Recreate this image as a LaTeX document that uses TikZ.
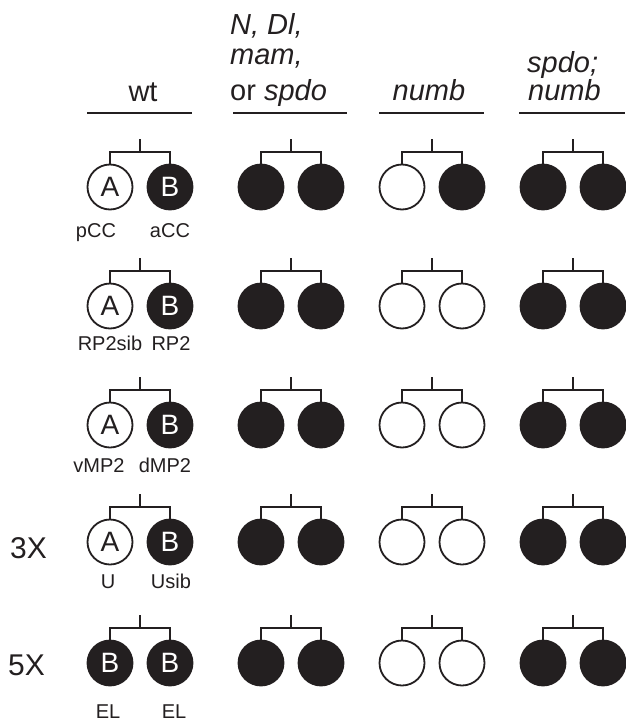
\documentclass[tikz,border=0pt]{standalone}
\usepackage{fontspec}
\setmainfont{Liberation Sans}
\definecolor{ink}{HTML}{231F20}
\newcommand\sibpair[7]{%
  \node[#4] (#1a) at (#2-30,#3) {#6};
  \node[#5] (#1b) at (#2+30,#3) {#7};
  \coordinate (#1j) at (#2,#3-35);
  \coordinate (#1t) at (#2,#3-48);
  \draw[br] (#1a.north) |- (#1j) -| (#1b.north);
  \draw[br] (#1j) -- (#1t);
}
\begin{document}
\begin{tikzpicture}[x=1pt,y=-1pt,
  cell/.style={circle, minimum size=45pt, inner sep=0pt, line width=1.8pt, draw=ink,
    font=\fontsize{28}{28}\selectfont},
  open/.style={cell, fill=white, text=ink},
  full/.style={cell, fill=ink, text=white},
  lab/.style={font=\fontsize{20}{20}\selectfont, anchor=base, text=ink, inner sep=0pt},
  head/.style={font=\fontsize{29}{30}\selectfont, anchor=base west, text=ink, inner sep=0pt},
  mult/.style={font=\fontsize{30}{30}\selectfont, anchor=base west, text=ink, inner sep=0pt},
  rulel/.style={line width=2pt, draw=ink},
  br/.style={line width=1.8pt, draw=ink}]
\useasboundingbox (0,0) rectangle (626,725);

% headers
\node[head, anchor=base] (hwt) at (143,101) {wt};
\node[head] (h2a) at (230,35) {\textit{N, Dl,}};
\node[head] (h2b) at (230,64) {\textit{mam,}};
\node[head] (h2c) at (230,100) {or \textit{spdo}};
\node[head, anchor=base] (h3) at (429,100) {\textit{numb}};
\node[head] (h4a) at (527,72) {\textit{spdo;}};
\node[head] (h4b) at (528,100) {\textit{numb}};
\coordinate (u1a) at (87,113);  \coordinate (u1b) at (192,113);
\coordinate (u2a) at (233,113); \coordinate (u2b) at (347,113);
\coordinate (u3a) at (379,113); \coordinate (u3b) at (484,113);
\coordinate (u4a) at (519,113); \coordinate (u4b) at (625,113);
\draw[rulel] (u1a) -- (u1b);
\draw[rulel] (u2a) -- (u2b);
\draw[rulel] (u3a) -- (u3b);
\draw[rulel] (u4a) -- (u4b);

% column 1 (wt)
\sibpair{p11}{140}{187}{open}{full}{A}{B}
\sibpair{p21}{140}{306}{open}{full}{A}{B}
\sibpair{p31}{140}{425}{open}{full}{A}{B}
\sibpair{p41}{140}{542}{open}{full}{A}{B}
\sibpair{p51}{140}{663}{full}{full}{B}{B}
% column 2
\sibpair{p12}{291}{187}{full}{full}{}{}
\sibpair{p22}{291}{306}{full}{full}{}{}
\sibpair{p32}{291}{425}{full}{full}{}{}
\sibpair{p42}{291}{542}{full}{full}{}{}
\sibpair{p52}{291}{663}{full}{full}{}{}
% column 3
\sibpair{p13}{432}{187}{open}{full}{}{}
\sibpair{p23}{432}{306}{open}{open}{}{}
\sibpair{p33}{432}{425}{open}{open}{}{}
\sibpair{p43}{432}{542}{open}{open}{}{}
\sibpair{p53}{432}{663}{open}{open}{}{}
% column 4
\sibpair{p14}{573}{187}{full}{full}{}{}
\sibpair{p24}{573}{306}{full}{full}{}{}
\sibpair{p34}{573}{425}{full}{full}{}{}
\sibpair{p44}{573}{542}{full}{full}{}{}
\sibpair{p54}{573}{663}{full}{full}{}{}

% cell labels
\node[lab] (l1a) at (96,237) {pCC};
\node[lab] (l1b) at (170,237) {aCC};
\node[lab] (l2a) at (110,350) {RP2sib};
\node[lab] (l2b) at (171,350) {RP2};
\node[lab] (l3a) at (99,472) {vMP2};
\node[lab] (l3b) at (165,472) {dMP2};
\node[lab] (l4a) at (108,588) {U};
\node[lab] (l4b) at (171,588) {Usib};
\node[lab] (l5a) at (108,718) {EL};
\node[lab] (l5b) at (174,718) {EL};

% multiplicity
\node[mult] (m3) at (10,558) {3X};
\node[mult] (m5) at (8,675) {5X};
\end{tikzpicture}
\end{document}
